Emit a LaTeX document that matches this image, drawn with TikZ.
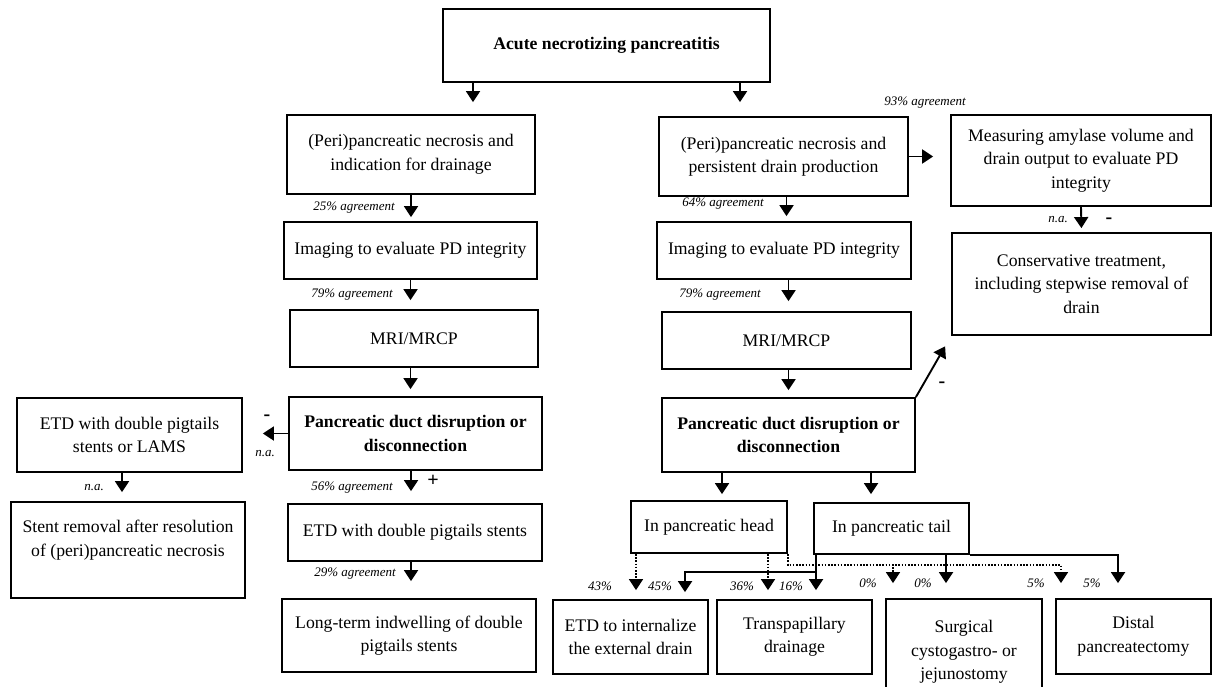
\documentclass[tikz,border=0pt]{standalone}
\usepackage{fontspec}
\setmainfont{Liberation Serif}
\usetikzlibrary{arrows.meta}

\tikzset{
  box/.style={draw, line width=1.8pt, align=center, inner sep=0pt,
    font=\fontsize{17.7}{23.5}\selectfont},
  boldbox/.style={box, font=\fontsize{17.7}{23.5}\selectfont\bfseries},
  arr/.style={line width=1.9pt, -{Triangle[width=14pt,length=11pt]}},
  dotarr/.style={arr, line width=1.6pt, dash pattern=on 1.6pt off 1.6pt},
  lbl/.style={font=\fontsize{13}{15}\selectfont\itshape, inner sep=0pt},
  sgn/.style={font=\fontsize{20}{22}\selectfont\bfseries, inner sep=0pt}
}

\begin{document}
\begin{tikzpicture}[x=1pt, y=-1pt]
    \useasboundingbox (0,0) rectangle (1212,687);
    \fill[white] (0,0) rectangle (1212,687);

    % Top level
    \node[boldbox, minimum width=327pt, minimum height=73pt] (top) at (606.5,45.5) {Acute necrotizing pancreatitis};

    % Left branch
    \node[box, minimum width=248pt, minimum height=79pt] (L1) at (411,154.5) {(Peri)pancreatic necrosis and\\indication for drainage};
    \node[box, minimum width=253pt, minimum height=57pt] (L2) at (410.5,250.5) {Imaging to evaluate PD integrity};
    \node[box, minimum width=248pt, minimum height=57pt] (L3) at (414,338.5) {MRI/MRCP};
    \node[boldbox, minimum width=253pt, minimum height=73pt] (L4) at (415.5,433.5) {Pancreatic duct disruption or\\disconnection};
    \node[box, minimum width=254pt, minimum height=57pt] (L5) at (415,532.5) {ETD with double pigtails stents};
    \node[box, minimum width=254pt, minimum height=73pt] (L6) at (409,635.5) {Long-term indwelling of double\\pigtails stents};
    \node[box, minimum width=225pt, minimum height=74pt] (EL) at (129.5,435) {ETD with double pigtails\\stents or LAMS};
    \node[box, minimum width=234pt, minimum height=96pt] (SR) at (128,550) {Stent removal after resolution\\of (peri)pancreatic necrosis\\\mbox{}};

    % Right branch
    \node[box, minimum width=249pt, minimum height=79pt] (R1) at (783.5,156.5) {(Peri)pancreatic necrosis and\\persistent drain production};
    \node[box, minimum width=254pt, minimum height=57pt] (R2) at (784,250.5) {Imaging to evaluate PD integrity};
    \node[box, minimum width=249pt, minimum height=57pt] (R3) at (786.5,340.5) {MRI/MRCP};
    \node[boldbox, minimum width=253pt, minimum height=74pt] (R4) at (788.5,435) {Pancreatic duct disruption or\\disconnection};
    \node[box, minimum width=260pt, minimum height=91pt] (M1) at (1081,160.5) {Measuring amylase volume and\\drain output to evaluate PD\\integrity};
    \node[box, minimum width=259pt, minimum height=102pt] (C) at (1081.5,284) {Conservative treatment,\\including stepwise removal of\\drain};
    \node[box, minimum width=156pt, minimum height=52pt] (H) at (709,527) {In pancreatic head};
    \node[box, minimum width=155pt, minimum height=51pt] (T) at (891.5,528.5) {In pancreatic tail};

    % Treatment options
    \node[box, minimum width=155pt, minimum height=74pt] (B1) at (630.5,637) {ETD to internalize\\the external drain};
    \node[box, minimum width=155pt, minimum height=74pt] (B2) at (794.5,637) {Transpapillary\\drainage};
    \node[box, minimum width=156pt, minimum height=106pt] (B3) at (964,652) {Surgical\\cystogastro- or\\jejunostomy};
    \node[box, minimum width=155pt, minimum height=75pt] (B4) at (1133.5,636.5) {Distal\\pancreatectomy};

    % Arrow columns and levels
    \coordinate (xa) at (473,0);
    \coordinate (xb) at (740,0);
    \coordinate (xc) at (122,0);
    \coordinate (xh) at (722,0);
    \coordinate (xt) at (871,0);
    \coordinate (d1) at (636,0);
    \coordinate (d2) at (768,0);
    \coordinate (d3) at (893,0);
    \coordinate (d4) at (1061,0);
    \coordinate (s1) at (685,0);
    \coordinate (s2) at (816,0);
    \coordinate (s3) at (946,0);
    \coordinate (s4) at (1118,0);
    \coordinate (hy) at (0,565);
    \coordinate (ty) at (0,572);

    \draw[arr, shorten >=12pt] (top.south -| xa) -- (L1.north -| xa);
    \draw[arr, shorten >=14pt] (top.south -| xb) -- (R1.north -| xb);
    \draw[arr, shorten >=4pt] (L1.south) -- (L1.south |- L2.north);
    \draw[arr, shorten >=9pt] (L2.south) -- (L2.south |- L3.north);
    \draw[arr, shorten >=7pt] (L2.south |- L3.south) -- (L2.south |- L4.north);
    \draw[arr, shorten >=12pt] (L1.south |- L4.south) -- (L1.south |- L5.north);
    \draw[arr, shorten >=17pt] (L1.south |- L5.south) -- (L1.south |- L6.north);
    \draw[arr, shorten >=20pt] (L4.west) -- (L4.west -| EL.east);
    \draw[arr, shorten >=9pt] (EL.south -| xc) -- (SR.north -| xc);
    \draw[arr, shorten >=17pt] (R1.east) -- (R1.east -| M1.west);
    \draw[arr, shorten >=5pt] (R1.south -| R3.north) -- (R2.north -| R3.north);
    \draw[arr, shorten >=10pt] (R2.south -| R4.north) -- (R3.north -| R4.north);
    \draw[arr, shorten >=7pt] (R3.south -| R4.north) -- (R4.north);
    \draw[arr, shorten >=4pt] (M1.south) -- (C.north);
    \draw[arr, shorten >=12pt] (R4.north east) -- (C.south west);
    \draw[arr, shorten >=6pt] (R4.south -| xh) -- (H.north -| xh);
    \draw[arr, shorten >=8pt] (R4.south -| xt) -- (T.north -| xt);

    % From head and tail
    \draw[dotarr, shorten >=9pt] (H.south -| d1) -- (B1.north -| d1);
    \draw[dotarr, shorten >=9pt] (H.south -| d2) -- (B2.north -| d2);
    \draw[dotarr, shorten >=15pt] (H.south east) -- (H.south east |- hy) -| (B3.north -| d3);
    \draw[dotarr, shorten >=15pt] (H.south east) -- (H.south east |- hy) -| (B4.north -| d4);
    \draw[arr, shorten >=9pt] (T.south -| s2) -- (B2.north -| s2);
    \draw[arr, shorten >=7pt] (T.south -| s2) -- (s2 |- ty) -| (B1.north -| s1);
    \draw[arr, shorten >=15pt] (T.south -| s3) -- (B3.north -| s3);
    \draw[arr, shorten >=15pt] (T.south east) -| (B4.north -| s4);

    % Agreement labels
    \node[lbl] (a93) at (925,103) {93\% agreement};
    \node[lbl] (a25) at (354,208) {25\% agreement};
    \node[lbl] (a79l) at (352,295) {79\% agreement};
    \node[lbl] (a56) at (352,488) {56\% agreement};
    \node[lbl] (a29) at (355,574) {29\% agreement};
    \node[lbl] (a64) at (723,204) {64\% agreement};
    \node[lbl] (a79r) at (720,295) {79\% agreement};
    \node[lbl] (na1) at (94,488) {n.a.};
    \node[lbl] (na2) at (265,454) {n.a.};
    \node[lbl] (na3) at (1058,220) {n.a.};
    \node[sgn] (m1) at (267,418) {-};
    \node[sgn] (m2) at (1109,221) {-};
    \node[sgn] (m3) at (942,385) {-};
    \node[sgn] (p1) at (433,481) {+};
    \node[lbl] (p43) at (600,586) {43\%};
    \node[lbl] (p45) at (660,586) {45\%};
    \node[lbl] (p36) at (742,586) {36\%};
    \node[lbl] (p16) at (791,586) {16\%};
    \node[lbl] (p0a) at (868,583) {0\%};
    \node[lbl] (p0b) at (923,583) {0\%};
    \node[lbl] (p5a) at (1036,583) {5\%};
    \node[lbl] (p5b) at (1092,583) {5\%};
\end{tikzpicture}
\end{document}
